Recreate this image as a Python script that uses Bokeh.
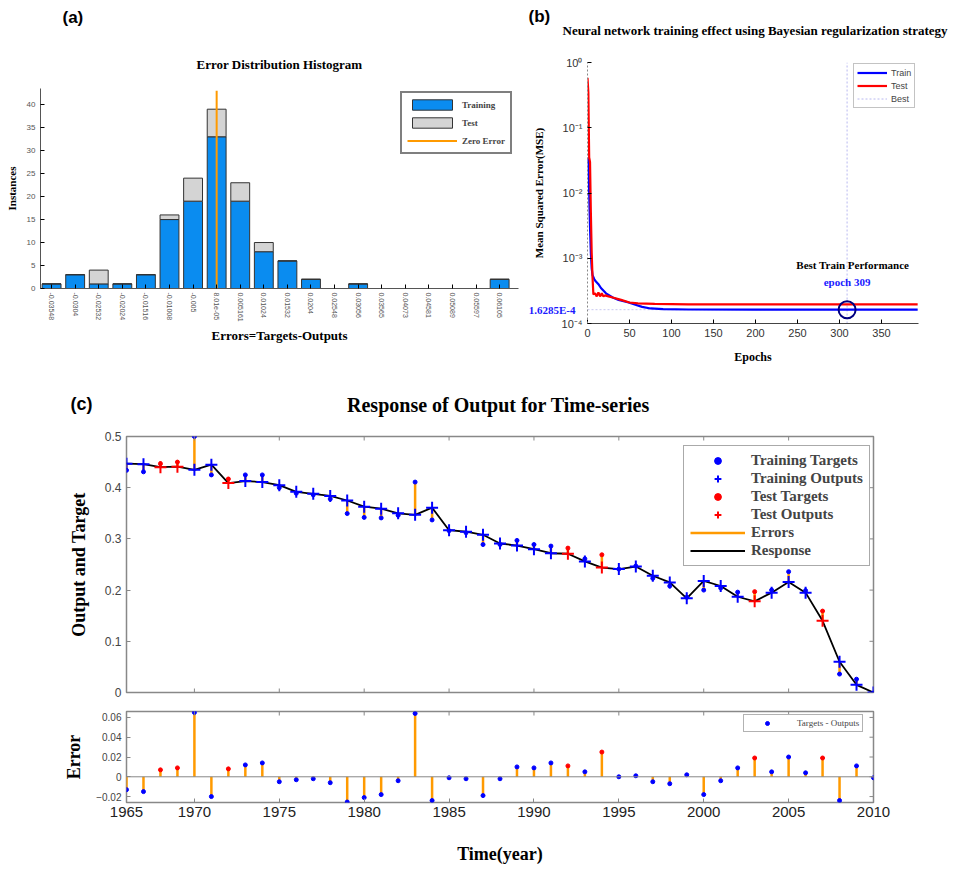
import math
from bokeh.plotting import figure
from bokeh.models import (ColumnDataSource, Legend, LegendItem, Label, LogAxis,
                          FixedTicker, Range1d, Span)
from bokeh.layouts import column, row
from bokeh.embed import file_html
from bokeh.resources import INLINE
from bokeh.core.properties import value

SERIF = "Liberation Serif"
SANS = "Liberation Sans"
HBLUE = "#0a8cf0"
GREYBAR = "#d4d4d4"
ORANGE = "#ff9a00"
BLUE = "#0000ff"
RED = "#ff0000"

# ---------------- (a) error histogram ----------------
bin_labels = ["-0.03548", "-0.0304", "-0.02532", "-0.02024", "-0.01516", "-0.01008",
              "-0.005", "8.01e-05", "0.005161", "0.01024", "0.01532", "0.0204",
              "0.02548", "0.03056", "0.03565", "0.04073", "0.04581", "0.05089",
              "0.05597", "0.06105"]
train_counts = [1, 3, 1, 1, 3, 15, 19, 33, 19, 8, 6, 2, 0, 1, 0, 0, 0, 0, 0, 2]
test_counts = [0, 0, 3, 0, 0, 1, 5, 6, 4, 2, 0, 0, 0, 0, 0, 0, 0, 0, 0, 0]
zero_error_bin = 7
hist_ymax = 43.5
hist_yticks = [0, 5, 10, 15, 20, 25, 30, 35, 40]

# ---------------- (b) training performance ----------------
train_epochs = [0, 1, 2, 3, 4, 5, 6, 8, 10, 13, 16, 22, 30, 37, 49, 57, 65, 75, 90, 120, 200, 309, 393]
train_mse = [0.035, 0.03, 0.01, 0.003, 0.0012, 0.0007, 0.00055, 0.00048, 0.00044, 0.0004,
             0.00035, 0.00029, 0.00025, 0.00023, 0.00021, 0.000194, 0.00018, 0.00017,
             0.000166, 0.000164, 0.000163, 0.00016285, 0.00016285]
test_epochs = [0, 1, 2, 3, 4, 5, 6, 7, 9, 11, 13, 15, 17, 19, 21, 25, 30, 40, 50, 60, 80, 120, 200, 393]
test_mse = [0.58, 0.35, 0.035, 0.03, 0.005, 0.0012, 0.0005, 0.00028, 0.00029, 0.00026,
            0.0003, 0.00026, 0.00029, 0.00026, 0.00027, 0.00026, 0.00025, 0.00023,
            0.00021, 0.000203, 0.0002, 0.000197, 0.000196, 0.000196]
best_epoch = 309
best_perf = 1.6285e-4
best_perf_label = "1.6285E-4"
mse_ticks = [1e-4, 1e-3, 1e-2, 1e-1, 1.0]
mse_tick_labels = ["10\u207b\u2074", "10\u207b\u00b3", "10\u207b\u00b2", "10\u207b\u00b9", "10\u2070"]
epoch_ticks = [0, 50, 100, 150, 200, 250, 300, 350]
max_epoch = 394

# ---------------- (c) time series ----------------
years = list(range(1966, 2011))
outputs = [0.447, 0.446, 0.440, 0.441, 0.435, 0.445, 0.409, 0.413, 0.411, 0.405,
           0.392, 0.388, 0.384, 0.375, 0.363, 0.359, 0.350, 0.347, 0.361, 0.317,
           0.314, 0.308, 0.291, 0.287, 0.280, 0.272, 0.271, 0.256, 0.244, 0.241,
           0.246, 0.228, 0.215, 0.184, 0.218, 0.208, 0.187, 0.178, 0.195, 0.216,
           0.195, 0.140, 0.060, 0.015, 0.000]
errors = [-0.013, -0.015, 0.007, 0.009, 0.065, -0.020, 0.008, 0.012, 0.014, -0.005,
          -0.003, -0.002, -0.006, -0.0255, -0.021, -0.018, -0.004, 0.064, -0.024, -0.001,
          -0.002, -0.019, -0.002, 0.010, 0.009, 0.014, 0.011, 0.005, 0.025, 0.000,
          0.001, -0.005, -0.007, 0.002, -0.018, -0.004, 0.009, 0.019, 0.005, 0.020,
          0.004, 0.019, -0.024, 0.011, -0.001]
test_years = [1968, 1969, 1972, 1992, 1994, 2003, 2007]
year_ticks = [1966, 1970, 1975, 1980, 1985, 1990, 1995, 2000, 2005, 2010]
year_tick_labels = ["1965", "1970", "1975", "1980", "1985", "1990", "1995", "2000", "2005", "2010"]
out_yticks = [0, 0.1, 0.2, 0.3, 0.4, 0.5]
err_yticks = [-0.02, 0, 0.02, 0.04, 0.06]
err_range = (-0.026, 0.066)


def new_fig(**kw):
    return figure(output_backend="svg", toolbar_location=None, frame_align=False, **kw)


def style_axis(ax, size, color="#444444"):
    ax.major_label_text_font = SANS
    ax.major_label_text_font_size = size
    ax.major_label_text_color = color
    ax.major_tick_in = 4
    ax.major_tick_out = 0
    ax.minor_tick_line_color = None
    ax.axis_label_text_font = SERIF
    ax.axis_label_text_font_style = "bold"
    ax.axis_label_text_color = "black"


def edge_ticks(p, xs, ys, vertical):
    # short inward tick marks on frame edges (half of the dash is clipped by the frame)
    p.scatter(x=xs, y=ys, marker="dash", size=8, angle=(math.pi / 2 if vertical else 0),
              line_color="#888888", line_width=1)


def header(width, height, texts):
    h = new_fig(width=width, height=height, x_range=Range1d(0, width), y_range=Range1d(height, 0),
                x_axis_type=None, y_axis_type=None, min_border=0)
    h.outline_line_color = None
    for (x, y, txt, size, font, align, color) in texts:
        h.text(x=[x], y=[y], text=[txt], text_font=value(font), text_font_style="bold",
               text_font_size=value(size), text_align=align, text_baseline="middle",
               text_color=color)
    return h


# ======================= panel (a) =======================
idx = list(range(len(bin_labels)))
totals = [a + b for a, b in zip(train_counts, test_counts)]
src_h = ColumnDataSource(dict(x=idx, train=train_counts, total=totals))

pa = new_fig(width=525, height=290, x_range=Range1d(-0.47, 19.8), y_range=Range1d(0, hist_ymax),
             min_border_left=40, min_border_right=7, min_border_top=8, min_border_bottom=82)
pa.grid.visible = False
pa.outline_line_color = None
r_train = pa.vbar(x="x", top="train", bottom=0, width=0.8, source=src_h,
                  fill_color=HBLUE, line_color="#333333", line_width=1)
r_test = pa.vbar(x="x", bottom="train", top="total", width=0.8, source=src_h,
                 fill_color=GREYBAR, line_color="#333333", line_width=1)
r_zero = pa.line(x=[zero_error_bin, zero_error_bin], y=[0, hist_ymax - 0.5],
                 line_color=ORANGE, line_width=2)

xa = pa.xaxis[0]
style_axis(xa, "7px", "#555555")
xa.ticker = FixedTicker(ticks=idx)
xa.major_label_overrides = {i: s for i, s in zip(idx, bin_labels)}
xa.major_label_orientation = "vertical"
xa.major_label_standoff = 4
xa.axis_label = "Errors=Targets-Outputs"
xa.axis_label_text_font_size = "13px"
xa.axis_label_standoff = 3
xa.axis_line_color = "#555555"

ya = pa.yaxis[0]
style_axis(ya, "8px", "#555555")
ya.ticker = FixedTicker(ticks=hist_yticks)
ya.major_label_standoff = 5
ya.axis_label = "Instances"
ya.axis_label_text_font_size = "11px"
ya.axis_label_standoff = 6
ya.axis_line_color = "#555555"

leg_a = Legend(items=[LegendItem(label="Training", renderers=[r_train]),
                      LegendItem(label="Test", renderers=[r_test]),
                      LegendItem(label="Zero Error", renderers=[r_zero])],
               location=(360, 134), glyph_width=50, glyph_height=13, label_height=13,
               spacing=5, padding=5, label_standoff=5,
               label_text_font=SERIF, label_text_font_style="bold", label_text_font_size="9px",
               border_line_color="black", border_line_width=2)
pa.add_layout(leg_a, "center")

ha = header(525, 80, [(62, 17, "(a)", "17px", SANS, "left", "black"),
                      (279, 64, "Error Distribution Histogram", "13px", SERIF, "center", "black")])

# ======================= panel (b) =======================
pb = new_fig(width=431, height=316, y_axis_type="log", x_range=Range1d(0, max_epoch),
             y_range=Range1d(mse_ticks[0], mse_ticks[-1]),
             min_border_left=57, min_border_right=38, min_border_top=8, min_border_bottom=47)
pb.grid.visible = False
pb.outline_line_color = None
r_best_v = pb.line(x=[best_epoch, best_epoch], y=[mse_ticks[0], mse_ticks[-1]],
                   line_color="#b8b8f0", line_width=1, line_dash="2 2")
pb.line(x=[0, max_epoch], y=[best_perf, best_perf], line_color="#c8c8f0", line_width=1, line_dash="2 2")
r_tr = pb.line(train_epochs, train_mse, line_color=BLUE, line_width=2.2)
r_te = pb.line(test_epochs, test_mse, line_color=RED, line_width=2.2)
pb.scatter(x=[best_epoch], y=[best_perf], marker="circle", size=17, fill_color=None,
           line_color="#000080", line_width=2)

xb = pb.xaxis[0]
style_axis(xb, "11px", "#333333")
xb.ticker = FixedTicker(ticks=epoch_ticks)
xb.axis_label = "Epochs"
xb.axis_label_text_font_size = "12px"
xb.axis_label_standoff = 10
xb.axis_line_color = "#444444"

yb = pb.yaxis[0]
style_axis(yb, "11px", "#333333")
yb.ticker = FixedTicker(ticks=mse_ticks)
yb.major_label_overrides = {t: s for t, s in zip(mse_ticks, mse_tick_labels)}
yb.axis_label = "Mean Squared Error(MSE)"
yb.axis_label_text_font_size = "11px"
yb.axis_label_standoff = 14
yb.axis_line_color = "#888888"
yb.axis_line_dash = "2 2"

# the best-performance value, written beside the axis (blue, bold serif)
ax_best = LogAxis(ticker=FixedTicker(ticks=[best_perf]))
ax_best.major_label_overrides = {best_perf: best_perf_label}
ax_best.major_label_text_font = SERIF
ax_best.major_label_text_font_style = "bold"
ax_best.major_label_text_font_size = "11px"
ax_best.major_label_text_color = "#1a1aff"
ax_best.major_label_standoff = -46
ax_best.axis_line_color = None
ax_best.major_tick_line_color = None
ax_best.minor_tick_line_color = None
ax_best.major_tick_in = 0
ax_best.major_tick_out = 0
pb.add_layout(ax_best, "left")

leg_b = Legend(items=[LegendItem(label="Train", renderers=[r_tr]),
                      LegendItem(label="Test", renderers=[r_te]),
                      LegendItem(label="Best", renderers=[r_best_v])],
               location=(266, 215), glyph_width=30, glyph_height=11, label_height=11,
               spacing=2, padding=3, label_standoff=4,
               label_text_font=SANS, label_text_font_size="9px",
               border_line_color="#888888", border_line_width=1.5)
pb.add_layout(leg_b, "center")
pb.add_layout(Label(x=best_epoch, y=best_perf, x_offset=7, y_offset=45,
                    text="Best Train  Performance", text_font=SERIF, text_font_style="bold",
                    text_font_size="11px", text_color="black", text_align="center",
                    text_baseline="middle"))
pb.add_layout(Label(x=best_epoch, y=best_perf, y_offset=28, text="epoch 309", text_font=SERIF,
                    text_font_style="bold", text_font_size="11px", text_color="#1a1aff",
                    text_align="center", text_baseline="middle"))

hb = header(431, 54, [(3, 16, "(b)", "17px", SANS, "left", "black"),
                      (37, 30, "Neural network training effect using Bayesian regularization strategy",
                       "13px", SERIF, "left", "black")])

# ======================= panel (c) =======================
targets = [o + e for o, e in zip(outputs, errors)]
is_test = [y in test_years for y in years]


def subset(flag):
    sel = [i for i, t in enumerate(is_test) if t == flag]
    return ColumnDataSource(dict(x=[years[i] for i in sel], out=[outputs[i] for i in sel],
                                 tgt=[targets[i] for i in sel], err=[errors[i] for i in sel]))


src_all = ColumnDataSource(dict(x=years, out=outputs, tgt=targets, err=errors))
src_tr = subset(False)
src_te = subset(True)

pc = new_fig(width=956, height=280, x_range=Range1d(years[0], years[-1]),
             y_range=Range1d(out_yticks[0], out_yticks[-1]),
             min_border_left=126, min_border_right=83, min_border_top=16, min_border_bottom=8)
pc.grid.visible = False
pc.outline_line_color = "#888888"
pc.outline_line_width = 1.5
r_err = pc.segment(x0="x", y0="out", x1="x", y1="tgt", source=src_all,
                   line_color=ORANGE, line_width=2.5)
r_resp = pc.line("x", "out", source=src_all, line_color="black", line_width=1.8)
r_tt = pc.scatter("x", "tgt", source=src_tr, marker="circle", size=4,
                  fill_color=BLUE, line_color=BLUE)
r_to = pc.scatter("x", "out", source=src_tr, marker="cross", size=12,
                  line_color=BLUE, line_width=2)
r_st = pc.scatter("x", "tgt", source=src_te, marker="circle", size=4,
                  fill_color=RED, line_color=RED)
r_so = pc.scatter("x", "out", source=src_te, marker="cross", size=12,
                  line_color=RED, line_width=2)
pc.xaxis.visible = False
inner_years = year_ticks[1:-1]
edge_ticks(pc, inner_years, [out_yticks[0]] * len(inner_years), True)
edge_ticks(pc, inner_years, [out_yticks[-1]] * len(inner_years), True)
edge_ticks(pc, [years[-1]] * len(out_yticks), out_yticks, False)

yc = pc.yaxis[0]
style_axis(yc, "12px", "#444444")
yc.ticker = FixedTicker(ticks=out_yticks)
yc.axis_label = "Output and Target"
yc.axis_label_text_font_size = "18px"
yc.axis_label_standoff = 13
yc.axis_line_color = None
yc.major_tick_line_color = "#888888"

leg_c = Legend(items=[LegendItem(label="Training Targets", renderers=[r_tt]),
                      LegendItem(label="Training Outputs", renderers=[r_to]),
                      LegendItem(label="Test Targets", renderers=[r_st]),
                      LegendItem(label="Test Outputs", renderers=[r_so]),
                      LegendItem(label="Errors", renderers=[r_err]),
                      LegendItem(label="Response", renderers=[r_resp])],
               location=(557, 126), glyph_width=55, glyph_height=17, label_height=17,
               spacing=1, padding=6, label_standoff=6,
               label_text_font=SERIF, label_text_font_style="bold", label_text_font_size="15px",
               border_line_color="#555555", border_line_width=1.5)
pc.add_layout(leg_c, "center")

hc = header(956, 50, [(70, 33, "(c)", "18px", SANS, "left", "black"),
                      (498, 34, "Response of Output for Time-series", "20px", SERIF, "center", "black")])

# ======================= error subplot =======================
pe = new_fig(width=956, height=168, x_range=pc.x_range, y_range=Range1d(*err_range),
             min_border_left=126, min_border_right=83, min_border_top=11, min_border_bottom=66)
pe.grid.visible = False
pe.outline_line_color = "#888888"
pe.outline_line_width = 1.5
pe.add_layout(Span(location=0, dimension="width", line_color="#888888", line_width=1))
pe.segment(x0="x", y0=0, x1="x", y1="err", source=src_all, line_color=ORANGE, line_width=2.5)
r_ed = pe.scatter("x", "err", source=src_tr, marker="circle", size=4,
                  fill_color=BLUE, line_color=BLUE)
pe.scatter("x", "err", source=src_te, marker="circle", size=4, fill_color=RED, line_color=RED)
edge_ticks(pe, inner_years, [err_range[1]] * len(inner_years), True)
edge_ticks(pe, [years[-1]] * len(err_yticks), err_yticks, False)

xe = pe.xaxis[0]
style_axis(xe, "15px", "#222222")
xe.ticker = FixedTicker(ticks=year_ticks)
xe.major_label_overrides = {t: s for t, s in zip(year_ticks, year_tick_labels)}
xe.major_label_standoff = 4
xe.axis_label = "Time(year)"
xe.axis_label_text_font_size = "18px"
xe.axis_label_standoff = 24
xe.axis_line_color = None
xe.major_tick_line_color = "#888888"

ye = pe.yaxis[0]
style_axis(ye, "10px", "#444444")
ye.ticker = FixedTicker(ticks=err_yticks)
ye.axis_label = "Error"
ye.axis_label_text_font_size = "18px"
ye.axis_label_standoff = 9
ye.axis_line_color = None
ye.major_tick_line_color = "#888888"

leg_e = Legend(items=[LegendItem(label="Targets - Outputs", renderers=[r_ed])],
               location=(617, 70), glyph_width=40, glyph_height=10, label_height=10,
               spacing=0, padding=3, label_standoff=10,
               label_text_font=SERIF, label_text_font_size="9px",
               border_line_color="#666666", border_line_width=1.2)
pe.add_layout(leg_e, "center")

layout = column(row(column(ha, pa), column(hb, pb)), hc, pc, pe)
open("out.html", "w").write(file_html(layout, INLINE, "Neural network results"))
